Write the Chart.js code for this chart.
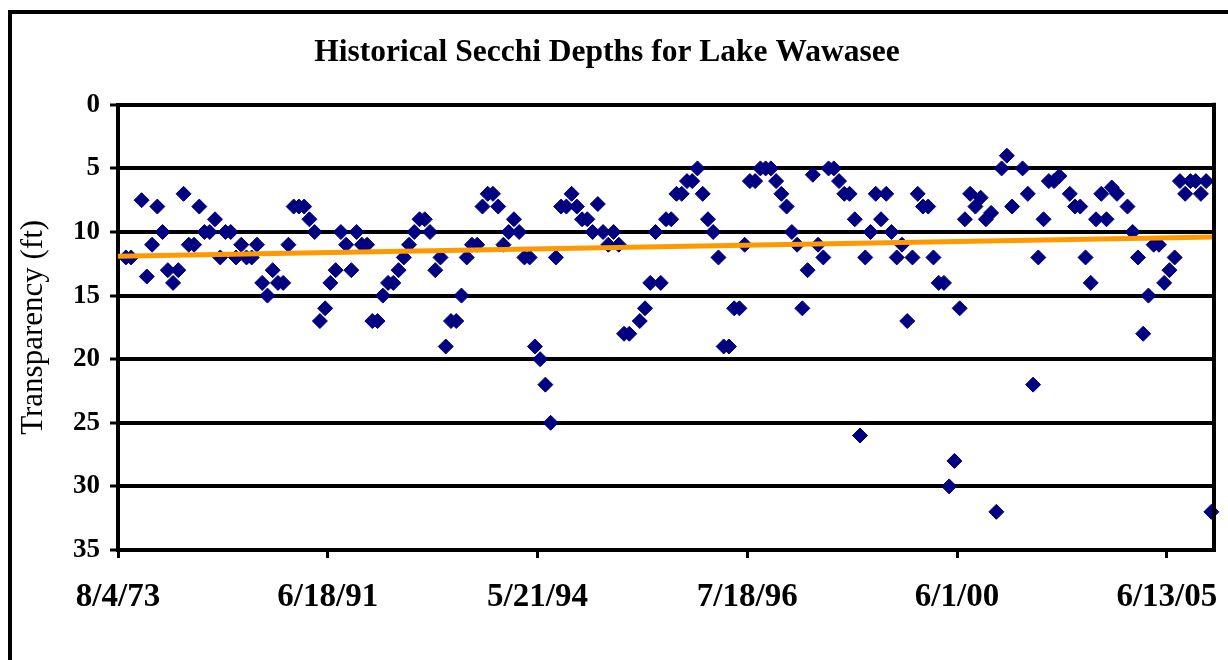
<!DOCTYPE html>
<html lang="en">
<head>
    <meta charset="UTF-8">
    <title>Historical Secchi Depths for Lake Wawasee</title>
    <script src="https://cdn.jsdelivr.net/npm/chart.js"></script>
    <style>
        body {
            margin: 0;
            background: #ffffff;
        }
        #wrap {
            width: 1228px;
            height: 660px;
        }
    </style>
</head>
<body>
    <div id="wrap">
        <canvas id="secchiChart" width="1228" height="660"></canvas>
    </div>

    <script>
        // Secchi depth readings (ft), one per sampling date, in order; null = no reading
        const depths = [
            null, 12, 12, null, 7.5, 13.5, 11, 8, 10, 13,        // 0-9
            14, 13, 7, 11, 11, 8, 10, 10, 9, 12,                 // 10-19
            10, 10, 12, 11, 12, 12, 11, 14, 15, 13,              // 20-29
            14, 14, 11, 8, 8, 8, 9, 10, 17, 16,                  // 30-39
            14, 13, 10, 11, 13, 10, 11, 11, 17, 17,              // 40-49
            15, 14, 14, 13, 12, 11, 10, 9, 9, 10,                // 50-59
            13, 12, 19, 17, 17, 15, 12, 11, 11, 8,               // 60-69
            7, 7, 8, 11, 10, 9, 10, 12, 12, 19,                  // 70-79
            20, 22, 25, 12, 8, 8, 7, 8, 9, 9,                    // 80-89
            10, 7.8, 10, 11, 10, 11, 18, 18, null, 17,           // 90-99
            16, 14, 10, 14, 9, 9, 7, 7, 6, 6,                    // 100-109
            5, 7, 9, 10, 12, 19, 19, 16, 16, 11,                 // 110-119
            6, 6, 5, 5, 5, 6, 7, 8, 10, 11,                      // 120-129
            16, 13, 5.5, 11, 12, 5, 5, 6, 7, 7,                  // 130-139
            9, 26, 12, 10, 7, 9, 7, 10, 12, 11,                  // 140-149
            17, 12, 7, 8, 8, 12, 14, 14, 30, 28,                 // 150-159
            16, 9, 7, 8, 7.3, 9, 8.5, 32, 5, 4,                  // 160-169
            8, null, 5, 7, 22, 12, 9, 6, 6, 5.6,                 // 170-179
            null, 7, 8, 8, 12, 14, 9, 7, 9, 6.5,                 // 180-189
            7, null, 8, 10, 12, 18, 15, 11, 11, 14,              // 190-199
            13, 12, 6, 7, 6, 6, 7, 6, 32                         // 200-208
        ];

        // date labels shown every 40 samples
        const tickLabels = ["8/4/73", "6/18/91", "5/21/94", "7/18/96", "6/1/00", "6/13/05"];
        const labelEvery = 40;

        // linear trend line, value at left and right edge of the plot
        const trendEnds = [11.9, 10.4];

        const serif = "'Liberation Serif', 'Times New Roman', serif";
        const xMin = -0.5;
        const xMax = depths.length - 0.5;

        const points = depths.map((v, i) => ({ x: i, y: v }));

        // outer frame and right edge of the plot area
        const framePlugin = {
            id: "frame",
            afterDraw(chart) {
                const ctx = chart.ctx;
                const area = chart.chartArea;
                ctx.save();
                ctx.strokeStyle = "#000";
                ctx.lineWidth = 4;
                ctx.strokeRect(10, 12, 1300, 800);
                ctx.beginPath();
                ctx.moveTo(area.right, area.top - 2);
                ctx.lineTo(area.right, area.bottom + 2);
                ctx.stroke();
                ctx.restore();
            }
        };

        new Chart(document.getElementById("secchiChart"), {
            type: "scatter",
            data: {
                datasets: [
                    {
                        type: "line",
                        label: "Trend",
                        data: [{ x: xMin, y: trendEnds[0] }, { x: xMax, y: trendEnds[1] }],
                        borderColor: "#ff9900",
                        borderWidth: 5,
                        pointRadius: 0,
                        fill: false
                    },
                    {
                        label: "Secchi depth",
                        data: points,
                        pointStyle: "rectRot",
                        pointRadius: 7.5,
                        pointBackgroundColor: "#000080",
                        pointBorderColor: "#000080",
                        pointBorderWidth: 1,
                        clip: false
                    }
                ]
            },
            options: {
                responsive: false,
                animation: false,
                layout: { padding: { left: 0, right: 14, top: 0, bottom: 0 } },
                plugins: {
                    legend: { display: false },
                    tooltip: { enabled: false },
                    title: {
                        display: true,
                        text: "Historical Secchi Depths for Lake Wawasee",
                        color: "#000",
                        font: { family: serif, size: 31.5, weight: "bold", lineHeight: 1.2 },
                        padding: { top: 34, bottom: 33 }
                    }
                },
                scales: {
                    x: {
                        type: "linear",
                        min: xMin,
                        max: xMax,
                        afterBuildTicks: (axis) => {
                            axis.ticks = tickLabels.map((_, j) => ({ value: xMin + j * labelEvery }));
                        },
                        afterFit: (scale) => {
                            scale.height = 110;
                            scale.paddingLeft = 0;
                            scale.paddingRight = 0;
                        },
                        border: { color: "#000", width: 4 },
                        grid: {
                            drawOnChartArea: false,
                            drawTicks: true,
                            tickLength: 8,
                            tickWidth: 3,
                            tickColor: "#000"
                        },
                        ticks: {
                            autoSkip: false,
                            maxRotation: 0,
                            padding: 20,
                            color: "#000",
                            font: { family: serif, size: 33, weight: "bold" },
                            callback: (value, index) => tickLabels[index]
                        }
                    },
                    y: {
                        reverse: true,
                        min: 0,
                        max: 35,
                        afterFit: (scale) => {
                            scale.width = 118;
                            scale.paddingTop = 0;
                            scale.paddingBottom = 0;
                        },
                        border: { color: "#000", width: 4 },
                        grid: {
                            color: "#000",
                            lineWidth: 4,
                            drawTicks: true,
                            tickLength: 8,
                            tickWidth: 3,
                            tickColor: "#000"
                        },
                        ticks: {
                            stepSize: 5,
                            padding: 10,
                            color: "#000",
                            font: { family: serif, size: 27, weight: "bold" }
                        },
                        title: {
                            display: true,
                            text: "Transparency (ft)",
                            color: "#000",
                            font: { family: serif, size: 31 },
                            padding: { top: 15, bottom: 0 }
                        }
                    }
                }
            },
            plugins: [framePlugin]
        });
    </script>
</body>
</html>
